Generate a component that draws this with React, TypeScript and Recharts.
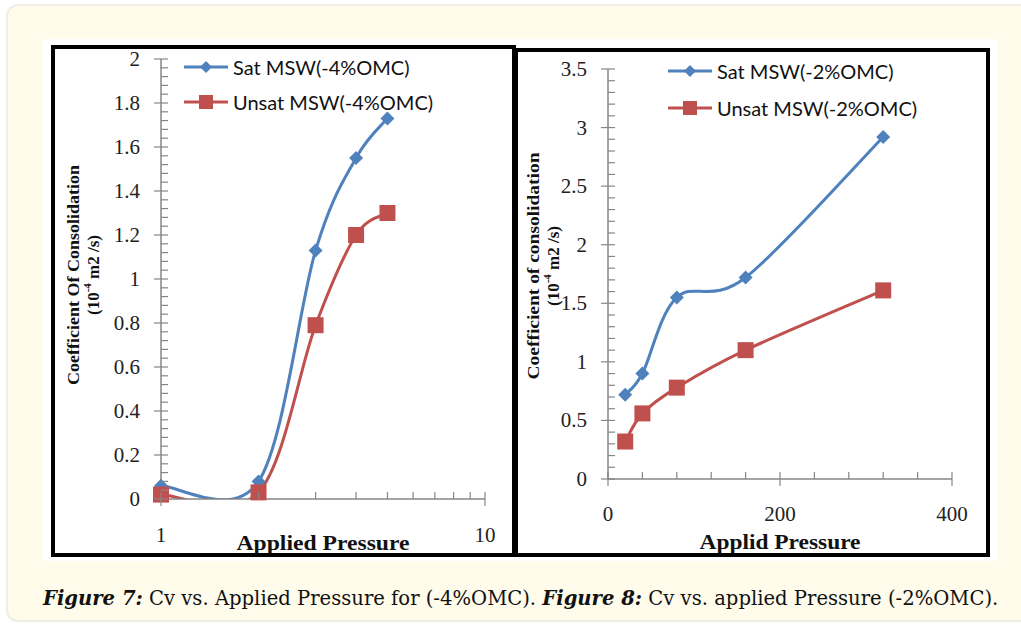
import React from 'react'
import { LineChart, Line, XAxis, YAxis, Legend, Label } from 'recharts'

// Figure 7 (-4% OMC), log pressure axis
const pressure7 = [1, 2, 3, 4, 5]
const sat7 = [0.06, 0.08, 1.13, 1.55, 1.73]
const unsat7 = [0.02, 0.03, 0.79, 1.2, 1.3]
const yMajor7 = [0, 0.2, 0.4, 0.6, 0.8, 1, 1.2, 1.4, 1.6, 1.8, 2]
const xTicks7 = [1, 2, 3, 4, 5, 6, 7, 8, 9, 10]
const xMajor7 = [1, 10]

// Figure 8 (-2% OMC), linear pressure axis
const pressure8 = [20, 40, 80, 160, 320]
const sat8 = [0.72, 0.9, 1.55, 1.72, 2.92]
const unsat8 = [0.32, 0.56, 0.78, 1.1, 1.61]
const yMajor8 = [0, 0.5, 1, 1.5, 2, 2.5, 3, 3.5]
const xTicks8 = [0, 40, 80, 120, 160, 200, 240, 280, 320, 360, 400]
const xMajor8 = [0, 200, 400]

const BLUE = '#4f81bd'
const RED = '#c0504d'
const AXIS = '#868686'
const SERIF = '"Liberation Serif", "DejaVu Serif", serif'
const SANS = 'Lato, "Open Sans", sans-serif'

const steps = (from: number, to: number, step: number) => {
  const out: number[] = []
  for (let v = from; v <= to + 1e-9; v += step) out.push(Math.round(v * 1000) / 1000)
  return out
}
const yTicks7 = steps(0, 2, 0.04)
const yTicks8 = steps(0, 3.5, 0.1)

const isIn = (list: number[], v: number) => list.some((m) => Math.abs(m - v) < 1e-6)

// Excel-like smoothed line (Catmull-Rom through the points)
const excelSmooth: any = (ctx: any) => {
  let pts: number[][] = []
  return {
    areaStart() {},
    areaEnd() {},
    lineStart() {
      pts = []
    },
    point(x: number, y: number) {
      pts.push([+x, +y])
    },
    lineEnd() {
      if (!pts.length) return
      ctx.moveTo(pts[0][0], pts[0][1])
      for (let i = 0; i < pts.length - 1; i++) {
        const p0 = pts[Math.max(i - 1, 0)]
        const p1 = pts[i]
        const p2 = pts[i + 1]
        const p3 = pts[Math.min(i + 2, pts.length - 1)]
        ctx.bezierCurveTo(
          p1[0] + (p2[0] - p0[0]) / 6,
          p1[1] + (p2[1] - p0[1]) / 6,
          p2[0] - (p3[0] - p1[0]) / 6,
          p2[1] - (p3[1] - p1[1]) / 6,
          p2[0],
          p2[1]
        )
      }
    },
  }
}

const Diamond = ({ cx, cy, size = 7 }: any) =>
  cx == null || cy == null ? null : (
    <polygon points={`${cx},${cy - size} ${cx + size},${cy} ${cx},${cy + size} ${cx - size},${cy}`} fill={BLUE} />
  )
const Square = ({ cx, cy, size = 8 }: any) =>
  cx == null || cy == null ? null : <rect x={cx - size} y={cy - size} width={size * 2} height={size * 2} fill={RED} />

const YTick = ({ x, y, payload, majors }: any) => {
  const major = isIn(majors, payload.value)
  return (
    <g>
      <line x1={major ? x - 7 : x} x2={x + 7} y1={y} y2={y} stroke={AXIS} strokeWidth={1.2} />
      {major && (
        <text x={x - 21} y={y} textAnchor="end" dominantBaseline="central" fontFamily={SERIF} fontSize={21} fill="#222">
          {String(payload.value)}
        </text>
      )}
    </g>
  )
}

const XTick = ({ x, y, payload, majors, dy }: any) => {
  const major = isIn(majors, payload.value)
  return (
    <g>
      <line x1={x} x2={x} y1={y - 7} y2={major ? y + 7 : y} stroke={AXIS} strokeWidth={1.2} />
      {major && (
        <text x={x} y={y + dy} textAnchor="middle" dominantBaseline="central" fontFamily={SERIF} fontSize={21} fill="#222">
          {String(payload.value)}
        </text>
      )}
    </g>
  )
}

const yTitle = (l1: string, x1: number, x2: number, cy: number, len: number) => (props: any) => {
  const vb = props.viewBox
  const c = vb.y + vb.height / 2 + cy
  return (
    <g fontFamily={SERIF} fontWeight="bold" fontSize={17} fill="#111">
      <text x={vb.x + x1} y={c} transform={`rotate(-90, ${vb.x + x1}, ${c})`} textAnchor="middle" dominantBaseline="central" textLength={len} lengthAdjust="spacingAndGlyphs">
        {l1}
      </text>
      <text x={vb.x + x2} y={c} transform={`rotate(-90, ${vb.x + x2}, ${c})`} textAnchor="middle" dominantBaseline="central">
        (10
        <tspan dy={-6} fontSize={11}>-4</tspan>
        <tspan dy={6}> m2 /s)</tspan>
      </text>
    </g>
  )
}

const xTitle = (text: string, dy: number, len: number) => (props: any) => {
  const vb = props.viewBox
  return (
    <text x={vb.x + vb.width / 2} y={vb.y + dy} textAnchor="middle" dominantBaseline="central" fontFamily={SERIF} fontWeight="bold" fontSize={20} fill="#111" textLength={len} lengthAdjust="spacingAndGlyphs">
      {text}
    </text>
  )
}

const legendContent = (rowH: number) => (props: any) => (
  <div>
    {(props.payload || [])
      .filter((e: any) => e.type !== 'none')
      .map((e: any) => (
        <div key={e.value} style={{ display: 'flex', alignItems: 'center', height: rowH }}>
          <svg width={46} height={20}>
            <line x1={0} x2={44} y1={10} y2={10} stroke={e.color} strokeWidth={3} />
            {e.dataKey === 'sat' ? <Diamond cx={22} cy={10} size={6} /> : <Square cx={22} cy={10} size={7} />}
          </svg>
          <span style={{ fontFamily: SANS, fontSize: 20, color: '#111', marginLeft: 3, whiteSpace: 'nowrap' }}>{e.value}</span>
        </div>
      ))}
  </div>
)

const data7 = pressure7.map((p, i) => ({ p, sat: sat7[i], unsat: unsat7[i] }))
const data8 = pressure8.map((p, i) => ({ p, sat: sat8[i], unsat: unsat8[i] }))

function Figure7() {
  return (
    <LineChart width={456} height={508} data={data7} margin={{ top: 14, right: 26, left: 0, bottom: 0 }}>
      <XAxis dataKey="p" type="number" scale="log" domain={[1, 10]} ticks={xTicks7} interval={0} height={54} tickSize={0} tickMargin={0} axisLine={{ stroke: AXIS, strokeWidth: 1.5 }} tick={<XTick majors={xMajor7} dy={36} />}>
        <Label content={xTitle('Applied Pressure', 44, 173)} />
      </XAxis>
      <YAxis yAxisId="v" type="number" domain={[0, 2]} allowDataOverflow ticks={yTicks7} interval={0} width={106} tickSize={0} tickMargin={0} axisLine={{ stroke: AXIS, strokeWidth: 1.5 }} tick={<YTick majors={yMajor7} />}>
        <Label content={yTitle('Coefficient Of Consolidation', 18, 38, -4, 220)} />
      </YAxis>
      <YAxis yAxisId="m" type="number" domain={[0, 2]} orientation="right" width={0} hide />
      <Legend layout="vertical" align="center" verticalAlign="middle" wrapperStyle={{ left: 129, top: 4, width: 260 }} content={legendContent(35)} />
      <Line yAxisId="v" type={excelSmooth} dataKey="sat" name="Sat MSW(-4%OMC)" stroke={BLUE} strokeWidth={3} dot={false} activeDot={false} isAnimationActive={false} />
      <Line yAxisId="m" dataKey="sat" stroke="none" legendType="none" dot={<Diamond size={7} />} activeDot={false} isAnimationActive={false} />
      <Line yAxisId="v" type={excelSmooth} dataKey="unsat" name="Unsat MSW(-4%OMC)" stroke={RED} strokeWidth={3} dot={false} activeDot={false} isAnimationActive={false} />
      <Line yAxisId="m" dataKey="unsat" stroke="none" legendType="none" dot={<Square size={8} />} activeDot={false} isAnimationActive={false} />
    </LineChart>
  )
}

function Figure8() {
  return (
    <LineChart width={468} height={502} data={data8} margin={{ top: 18, right: 34, left: 0, bottom: 0 }}>
      <XAxis dataKey="p" type="number" domain={[0, 400]} ticks={xTicks8} interval={0} height={74} tickSize={0} tickMargin={0} axisLine={{ stroke: AXIS, strokeWidth: 1.5 }} tick={<XTick majors={xMajor8} dy={35} />}>
        <Label content={xTitle('Applid Pressure', 63, 161)} />
      </XAxis>
      <YAxis type="number" domain={[0, 3.5]} ticks={yTicks8} interval={0} width={90} tickSize={0} tickMargin={0} axisLine={{ stroke: AXIS, strokeWidth: 1.5 }} tick={<YTick majors={yMajor8} />}>
        <Label content={yTitle('Coefficient of consolidation', 15, 35, -8, 227)} />
      </YAxis>
      <Legend layout="vertical" align="center" verticalAlign="middle" wrapperStyle={{ left: 150, top: 1, width: 280 }} content={legendContent(37)} />
      <Line type={excelSmooth} dataKey="sat" name="Sat MSW(-2%OMC)" stroke={BLUE} strokeWidth={3} dot={<Diamond size={7} />} activeDot={false} isAnimationActive={false} />
      <Line type={excelSmooth} dataKey="unsat" name="Unsat MSW(-2%OMC)" stroke={RED} strokeWidth={3} dot={<Square size={8} />} activeDot={false} isAnimationActive={false} />
    </LineChart>
  )
}

export default function App() {
  return (
    <div style={{ position: 'absolute', left: 0, top: 0, width: 1021, height: 624, background: '#fff', overflow: 'hidden' }}>
      <div style={{ position: 'absolute', left: 6, top: 4, width: 1040, height: 618, background: '#fffcec', border: '2px solid #f0eee4', borderRadius: 12, boxSizing: 'border-box' }} />
      <div style={{ position: 'absolute', left: 43, top: 39, width: 954, height: 522, background: '#fff' }} />
      <div style={{ position: 'absolute', left: 51, top: 45, width: 465, height: 512, border: '4px solid #000', boxSizing: 'border-box', background: '#fff' }} />
      <div style={{ position: 'absolute', left: 512, top: 48, width: 478, height: 509, border: '4px solid #000', borderLeftWidth: 6, boxSizing: 'border-box', background: '#fff' }} />
      <div style={{ position: 'absolute', left: 55, top: 45 }}>
        <Figure7 />
      </div>
      <div style={{ position: 'absolute', left: 518, top: 51 }}>
        <Figure8 />
      </div>
      <div style={{ position: 'absolute', left: 43, top: 586, fontFamily: '"DejaVu Serif", serif', fontSize: 19.6, lineHeight: '26px', color: '#111', whiteSpace: 'nowrap' }}>
        <b><i>Figure 7:</i></b> Cv vs. Applied Pressure for (-4%OMC). <b><i>Figure 8:</i></b> Cv vs. applied Pressure (-2%OMC).
      </div>
    </div>
  )
}
